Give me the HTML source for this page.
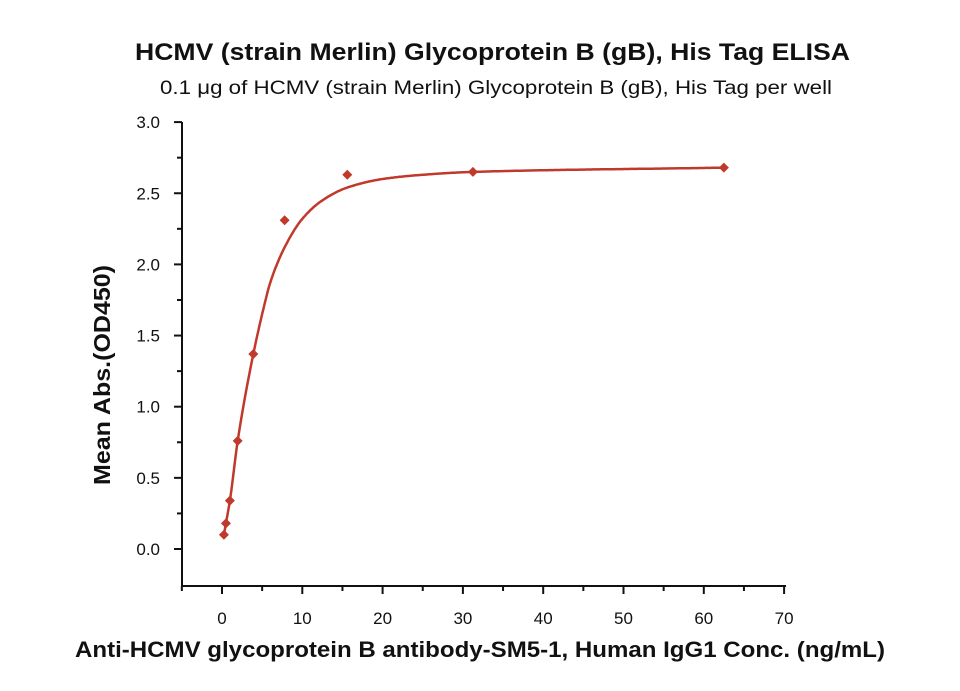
<!DOCTYPE html>
<html><head><meta charset="utf-8"><style>
body{margin:0;background:#fff;}
svg text{font-family:"Liberation Sans",sans-serif;}
</style></head><body>
<svg id="s" width="960" height="686" viewBox="0 0 960 686" xmlns="http://www.w3.org/2000/svg">
<text x="135" y="60" textLength="715" lengthAdjust="spacingAndGlyphs" font-size="24" font-weight="bold" fill="#111">HCMV (strain Merlin) Glycoprotein B (gB), His Tag ELISA</text>
<text x="160" y="94" textLength="672" lengthAdjust="spacingAndGlyphs" font-size="19" fill="#111">0.1 μg of HCMV (strain Merlin) Glycoprotein B (gB), His Tag per well</text>
<text x="75" y="657" textLength="810" lengthAdjust="spacingAndGlyphs" font-size="22" font-weight="bold" fill="#111">Anti-HCMV glycoprotein B antibody-SM5-1, Human IgG1 Conc. (ng/mL)</text>
<text transform="translate(110,485) rotate(-90)" textLength="220" lengthAdjust="spacingAndGlyphs" font-size="23" font-weight="bold" fill="#111">Mean Abs.(OD450)</text>
<g id="ax" stroke="#111" stroke-width="2" fill="none"></g>
<g id="lb" font-size="17" fill="#111"></g>
<path id="cv" fill="none" stroke="#c0392b" stroke-width="2.5"/>
<g id="pt" fill="#c0392b"></g>
</svg>
<script>
var X=function(v){return 222+v*8.03},Y=function(v){return 549-v*142.3};
var ax=document.getElementById('ax'),lb=document.getElementById('lb'),h='',t='';
h+='<path d="M182,122V586H786"/>';
for(var i=0;i<=12;i++){var y=Y(i*0.25),L=i%2?5:8;h+='<path d="M182,'+y+'h-'+L+'"/>';
if(i%2==0)t+='<text x="160" y="'+(y+6)+'" text-anchor="end">'+(i*0.25).toFixed(1)+'</text>';}
for(var v=-5;v<=70;v+=5){var x=X(v),L=v%10?5:8;h+='<path d="M'+x+',586v'+L+'"/>';
if(v%10==0&&v>=0)t+='<text x="'+x+'" y="624" text-anchor="middle">'+v+'</text>';}
ax.innerHTML=h;lb.innerHTML=t;
var A=[[0.24,0.1],[0.49,0.18],[0.98,0.34],[1.95,0.76],[3.9,1.37],[5,1.65],[6,1.87],[7.8,2.12],[10,2.32],[12.5,2.45],[15.6,2.54],[20,2.60],[25,2.63],[31.25,2.65],[62.5,2.68]];
var n=A.length,dl=[],m=[];
for(var i=0;i<n-1;i++)dl.push((A[i+1][1]-A[i][1])/(A[i+1][0]-A[i][0]));
m[0]=dl[0];m[n-1]=dl[n-2];
for(var i=1;i<n-1;i++){if(dl[i-1]*dl[i]<=0)m[i]=0;else{var w1=2*(A[i+1][0]-A[i][0])+(A[i][0]-A[i-1][0]),w2=(A[i+1][0]-A[i][0])+2*(A[i][0]-A[i-1][0]);m[i]=(w1+w2)/(w1/dl[i-1]+w2/dl[i]);}}
var d='';
for(var i=0;i<n-1;i++){var hh=A[i+1][0]-A[i][0],N=Math.max(4,Math.ceil(hh*6));
for(var k=(i?1:0);k<=N;k++){var s=k/N,x=A[i][0]+s*hh,h00=2*s*s*s-3*s*s+1,h10=s*s*s-2*s*s+s,h01=-2*s*s*s+3*s*s,h11=s*s*s-s*s;
var y=h00*A[i][1]+h10*hh*m[i]+h01*A[i+1][1]+h11*hh*m[i+1];d+=(d?'L':'M')+X(x).toFixed(1)+','+Y(y).toFixed(1);}}
document.getElementById('cv').setAttribute('d',d);
var P=[[0.24,0.1],[0.49,0.18],[0.98,0.34],[1.95,0.76],[3.9,1.37],[7.8,2.31],[15.6,2.63],[31.25,2.65],[62.5,2.68]],p='';
P.forEach(function(q){var x=X(q[0]),y=Y(q[1]);p+='<path d="M'+x+','+(y-5)+'l5,5l-5,5l-5,-5z"/>';});
document.getElementById('pt').innerHTML=p;
</script>
</body></html>
